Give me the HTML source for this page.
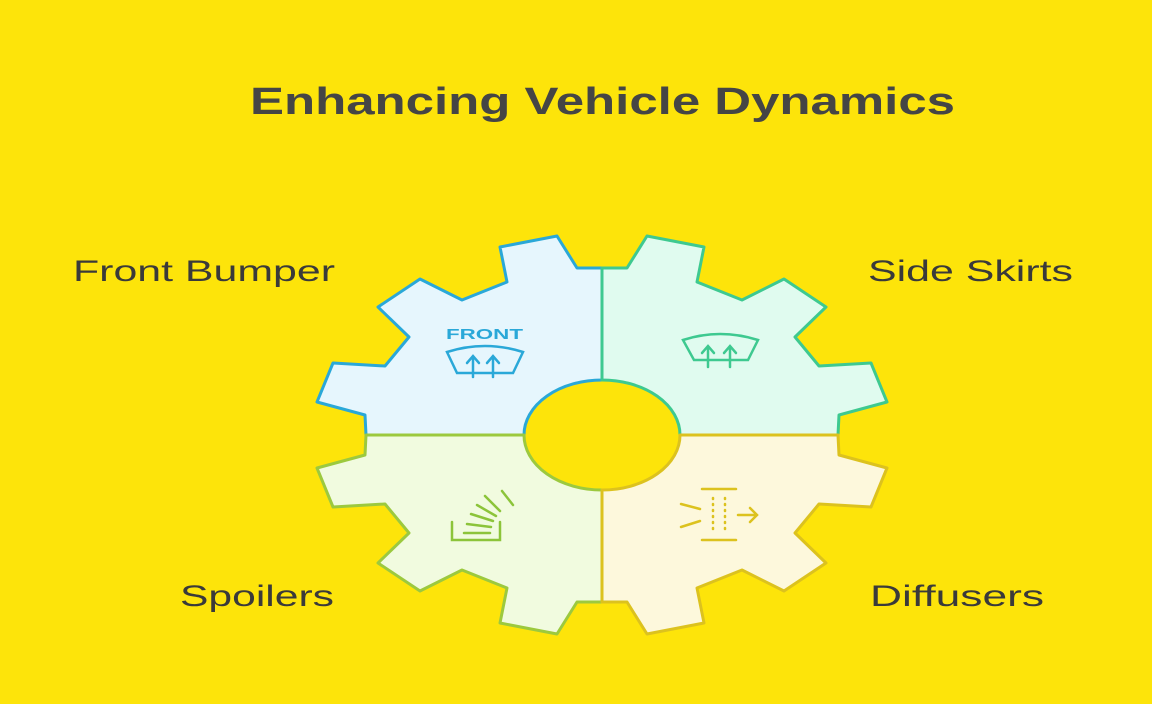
<!DOCTYPE html>
<html><head><meta charset="utf-8"><style>
html,body{margin:0;padding:0;background:#fde40a;}
svg{display:block;}
text{font-family:"Liberation Sans",sans-serif;}
</style></head><body>
<svg width="1152" height="704" viewBox="0 0 1152 704" xmlns="http://www.w3.org/2000/svg">
<rect width="1152" height="704" fill="#fde40a"/>
<defs>
<path id="q" d="M0,-167 L-25,-167 L-45,-199 L-102,-188 L-95,-153 L-140,-135 L-182,-156 L-224,-128 L-193,-98 L-217,-69 L-269,-72 L-285,-33 L-237,-20 L-236,0 L-78,0 A78,55 0 0 1 0,-55 Z" stroke-width="3" stroke-linejoin="round"/>
</defs>
<g transform="translate(602,435)">
<use href="#q" fill="#e6f6fd" stroke="#2aa8d8"/>
<use href="#q" transform="scale(-1,1)" fill="#e0fbef" stroke="#3ec990"/>
<use href="#q" transform="scale(1,-1)" fill="#f1fbdf" stroke="#9cc93e"/>
<use href="#q" transform="scale(-1,-1)" fill="#fdf8dc" stroke="#dcc21e"/>
</g>
<text x="250" y="114" font-size="38" font-weight="bold" fill="#454545" textLength="705" lengthAdjust="spacingAndGlyphs">Enhancing Vehicle Dynamics</text>
<text x="73" y="281" font-size="30" fill="#3a3a3a" textLength="262" lengthAdjust="spacingAndGlyphs">Front Bumper</text>
<text x="868" y="281" font-size="30" fill="#3a3a3a" textLength="205" lengthAdjust="spacingAndGlyphs">Side Skirts</text>
<text x="180" y="606" font-size="30" fill="#3a3a3a" textLength="154" lengthAdjust="spacingAndGlyphs">Spoilers</text>
<text x="870" y="606" font-size="30" fill="#3a3a3a" textLength="174" lengthAdjust="spacingAndGlyphs">Diffusers</text>
<!-- front icon -->
<text x="446" y="339" font-size="15" font-weight="bold" fill="#2aa8d8" textLength="77" lengthAdjust="spacingAndGlyphs">FRONT</text>
<g fill="none" stroke="#2aa8d8" stroke-width="2.5" stroke-linecap="round">
<path d="M447,352 Q485,340 523,352 L513,373 L457,373 Z"/>
<path d="M473,377 L473,357 M467,363 L473,356 L479,363"/>
<path d="M493,377 L493,357 M487,363 L493,356 L499,363"/>
</g>
<g fill="none" stroke="#3ec990" stroke-width="2.5" stroke-linecap="round">
<path d="M683,340 Q720,328 758,340 L748,360 L694,360 Z"/>
<path d="M708,367 L708,347 M702,353 L708,346 L714,353"/>
<path d="M730,367 L730,347 M724,353 L730,346 L736,353"/>
</g>
<g fill="none" stroke="#8cc43a" stroke-width="2.5" stroke-linecap="round">
<path d="M452,522 L452,540 L500,540 L500,522"/>
<path d="M464,533 L490,533"/>
<path d="M467,524 L491,527"/>
<path d="M471,514 L493,521"/>
<path d="M477,505 L496,516"/>
<path d="M485,496 L500,511"/>
<path d="M502,491 L513,505"/>
</g>
<g fill="none" stroke="#dcc21e" stroke-width="2.5" stroke-linecap="round">
<path d="M702,489 L736,489 M702,540 L736,540"/>
<path d="M713,498 L713,532 M725,498 L725,532" stroke-dasharray="1 5"/>
<path d="M681,504 L700,509 M681,527 L700,521"/>
<path d="M738,515 L757,515 M750,508 L757,515 L750,522"/>
</g>
</svg>
</body></html>
